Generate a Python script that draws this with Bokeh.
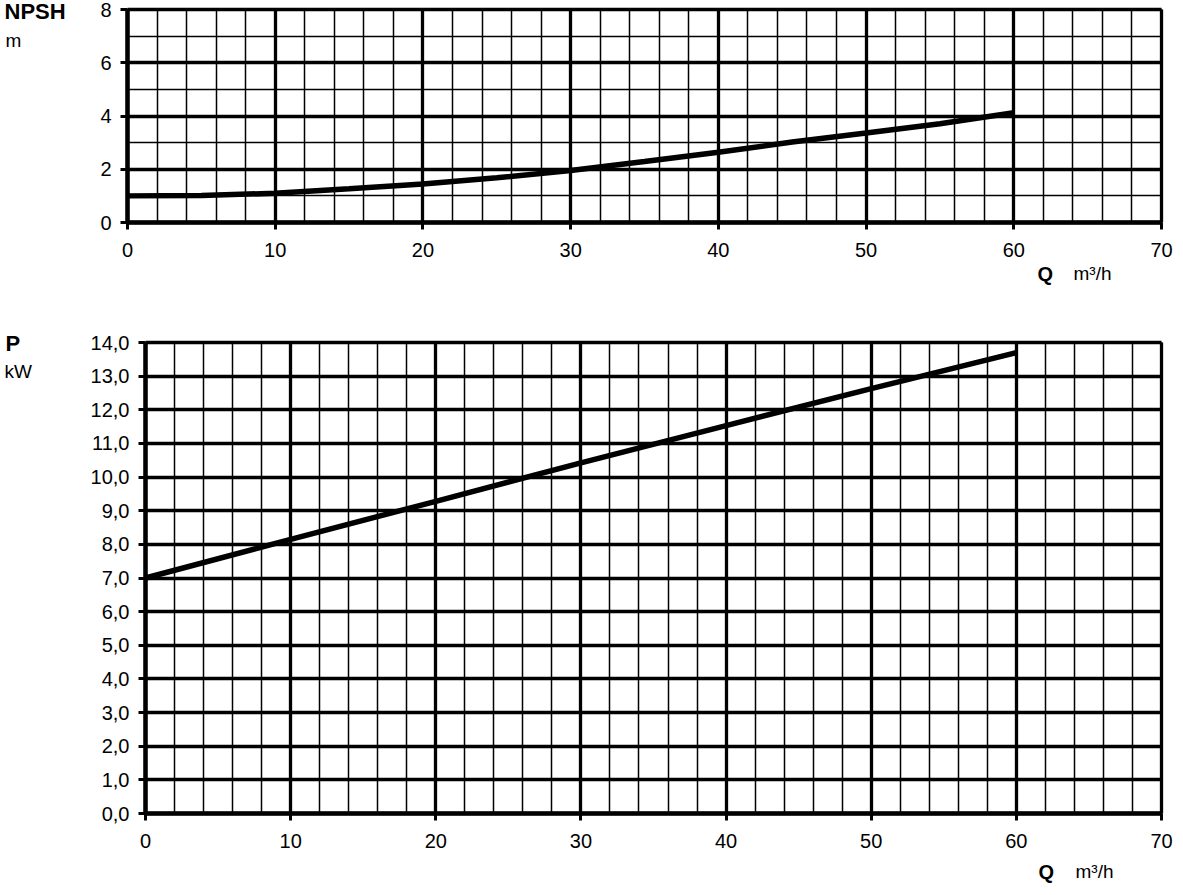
from bokeh.plotting import figure
from bokeh.layouts import column
from bokeh.models import FixedTicker, Label, Grid
from bokeh.embed import file_html
from bokeh.resources import INLINE

# ---- data ----
q_npsh = [0, 5, 10, 15, 20, 25, 30, 35, 40, 45, 50, 55, 60]
npsh = [1.00, 1.01, 1.10, 1.27, 1.45, 1.68, 1.95, 2.29, 2.64, 3.02, 3.36, 3.71, 4.12]

q_power = [0, 10, 20, 30, 40, 50, 60]
power = [7.00, 8.15, 9.28, 10.42, 11.53, 12.63, 13.70]

x_major = [0, 10, 20, 30, 40, 50, 60, 70]
x_minor = list(range(0, 71, 2))
npsh_major = [0, 2, 4, 6, 8]
npsh_minor = [0, 1, 2, 3, 4, 5, 6, 7, 8]
p_major = list(range(0, 15))
p_labels = {v: f"{v:.1f}".replace(".", ",") for v in p_major}

FONT = "Liberation Sans"
TICK_SIZE = "20px"
W = 1180
HAS_CB = "cross_bounds" in Grid.properties()


def make_fig(h, box, xr, yr):
    # box: pixel box (left, right, top, bottom) of the chart area on this canvas
    l, r, t, b = box
    kx = (r - l) / (xr[1] - xr[0])
    ky = (b - t) / (yr[1] - yr[0])
    x_rng = (xr[0] - l / kx, xr[1] + (W - r) / kx)
    y_rng = (yr[0] - (h - b) / ky, yr[1] + t / ky)
    p = figure(width=W, height=h, x_range=x_rng, y_range=y_rng,
               output_backend="svg", toolbar_location=None, min_border=0)
    p.outline_line_color = None
    p.background_fill_color = "white"
    p.border_fill_color = "white"

    def to_data(sx, sy):
        return xr[0] + (sx - l) / kx, yr[0] + (b - sy) / ky
    return p, to_data


def style(p, xr, yr, xt, yt, ylabels=None):
    p.xaxis.ticker = xt
    p.yaxis.ticker = yt
    p.xaxis.fixed_location = yr[0]
    p.yaxis.fixed_location = xr[0]
    p.xaxis.bounds = xr
    p.yaxis.bounds = yr
    if ylabels:
        p.yaxis.major_label_overrides = ylabels
    for ax in p.axis:
        ax.axis_line_color = "black"
        ax.axis_line_width = 4.5
        ax.major_tick_out = 7
        ax.major_tick_in = 0
        ax.major_tick_line_width = 3
        ax.major_tick_line_color = "black"
        ax.minor_tick_out = 0
        ax.minor_tick_in = 0
        ax.major_label_text_font = FONT
        ax.major_label_text_font_size = TICK_SIZE
        ax.major_label_text_color = "black"
    p.xaxis.major_label_standoff = 13
    p.yaxis.major_label_standoff = 9
    if HAS_CB:
        p.xgrid.bounds = xr
        p.xgrid.cross_bounds = yr
        p.ygrid.bounds = yr
        p.ygrid.cross_bounds = xr
        for g in (p.xgrid, p.ygrid):
            g.grid_line_color = "black"
            g.grid_line_width = 3.3
            g.grid_line_alpha = 1
            g.minor_grid_line_color = "black"
            g.minor_grid_line_width = 1.5
            g.minor_grid_line_alpha = 1
    else:
        for g in (p.xgrid, p.ygrid):
            g.visible = False
        xmin = [v for v in xt.minor_ticks]
        ymin = [v for v in yt.minor_ticks]
        p.segment(x0=xmin, x1=xmin, y0=[yr[0]] * len(xmin), y1=[yr[1]] * len(xmin),
                  line_color="black", line_width=1.5)
        p.segment(x0=[xr[0]] * len(ymin), x1=[xr[1]] * len(ymin), y0=ymin, y1=ymin,
                  line_color="black", line_width=1.5)
        p.segment(x0=xt.ticks, x1=xt.ticks, y0=[yr[0]] * len(xt.ticks), y1=[yr[1]] * len(xt.ticks),
                  line_color="black", line_width=3.3)
        p.segment(x0=[xr[0]] * len(yt.ticks), x1=[xr[1]] * len(yt.ticks), y0=yt.ticks, y1=yt.ticks,
                  line_color="black", line_width=3.3)


def add_text(p, to_data, sx, sy, text, bold=False, size="20px"):
    x, y = to_data(sx, sy)
    p.add_layout(Label(x=x, y=y, text=text, text_font=FONT, text_font_size=size,
                       text_font_style="bold" if bold else "normal",
                       text_baseline="alphabetic", text_align="left", text_color="black"))


# ---- top: NPSH ----
H1 = 298
xr1, yr1 = (0, 70), (0, 8)
p1, td1 = make_fig(H1, (127, 1161, 9, 222), xr1, yr1)
style(p1, xr1, yr1, FixedTicker(ticks=x_major, minor_ticks=x_minor),
      FixedTicker(ticks=npsh_major, minor_ticks=npsh_minor))
p1.line(q_npsh, npsh, line_width=5.5, line_color="black")
add_text(p1, td1, 4, 11, "NPSH", bold=True, size="22px")
add_text(p1, td1, 5, 40, "m", size="19px")
add_text(p1, td1, 1037, 273, "Q", bold=True, size="20px")
add_text(p1, td1, 1073, 273, "m³/h", size="19px")

# ---- bottom: power ----
H2 = 595
off = H1
xr2, yr2 = (0, 70), (0, 14)
p2, td2 = make_fig(H2, (145, 1161, 342 - off, 813 - off), xr2, yr2)
style(p2, xr2, yr2, FixedTicker(ticks=x_major, minor_ticks=x_minor),
      FixedTicker(ticks=p_major, minor_ticks=[]), p_labels)
p2.line(q_power, power, line_width=5.5, line_color="black")
add_text(p2, td2, 5, 343 - off, "P", bold=True, size="22px")
add_text(p2, td2, 4, 371 - off, "kW", size="19px")
add_text(p2, td2, 1038, 871 - off, "Q", bold=True, size="20px")
add_text(p2, td2, 1075, 871 - off, "m³/h", size="19px")

layout = column(p1, p2, spacing=0)
open("out.html", "w").write(file_html(layout, INLINE))
